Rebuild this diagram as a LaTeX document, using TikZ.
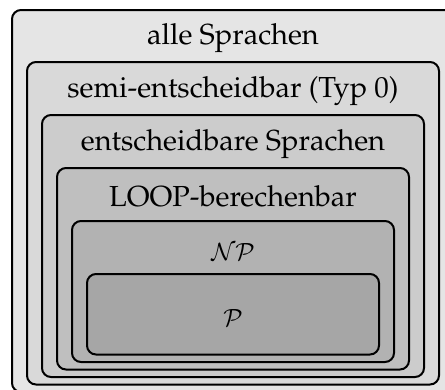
\documentclass[tikz,border=0pt]{standalone}
\usepackage[T1]{fontenc}
\DeclareMathAlphabet{\mycal}{OMS}{lmsy}{m}{n}
\tikzset{
  setbox/.style={draw=black, line width=2pt, rounded corners=9pt, inner sep=0pt},
  lbl/.style={anchor=base, inner sep=0pt, font=\fontsize{29}{34}\fontfamily{ppl}\selectfont}
}
\begin{document}
\begin{tikzpicture}[x=1pt,y=-1pt]
\useasboundingbox (0,0) rectangle (445,389);
\clip (0,0) rectangle (445,389);
\node[setbox, fill=black!10, minimum width=442pt, minimum height=382pt] (alle) at (233,201) {};
\node[setbox, fill=black!15, minimum width=412pt, minimum height=322.5pt] (semi) at (233,223.25) {};
\node[setbox, fill=black!20, minimum width=382pt, minimum height=262pt] (ent) at (233,246) {};
\node[setbox, fill=black!25, minimum width=352pt, minimum height=201.5pt] (loop) at (233,268.75) {};
\node[setbox, fill=black!30, minimum width=322pt, minimum height=141pt] (np) at (233,291.5) {};
\node[setbox, fill=black!35, minimum width=292pt, minimum height=80.5pt] (p) at (233,314.25) {};
\node[lbl] (talle) at (233,44) {alle Sprachen};
\node[lbl] (tsemi) at (233,97) {semi-entscheidbar (Typ 0)};
\node[lbl] (tent) at (233,150) {entscheidbare Sprachen};
\node[lbl] (tloop) at (233,206) {LOOP-berechenbar};
\node[lbl] (tnp) at (233,260) {$\mycal{N}\mycal{P}$};
\node[lbl] (tp) at (233,326) {$\mycal{P}$};
\end{tikzpicture}
\end{document}
